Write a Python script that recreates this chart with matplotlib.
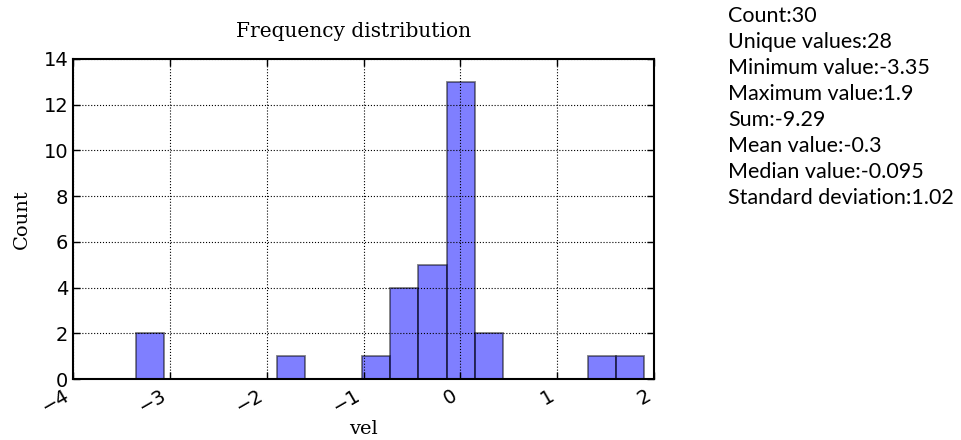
import numpy as np
import matplotlib
matplotlib.use("Agg")
import matplotlib.pyplot as plt

# Data
vmin, vmax = -3.35, 1.9
n_bins = 18
counts = [2, 0, 0, 0, 0, 1, 0, 0, 1, 4, 5, 13, 2, 0, 0, 0, 1, 1]
xticks = [-4, -3, -2, -1, 0, 1, 2]
yticks = [0, 2, 4, 6, 8, 10, 12, 14]
stats_lines = [
    "Count:30",
    "Unique values:28",
    "Minimum value:-3.35",
    "Maximum value:1.9",
    "Sum:-9.29",
    "Mean value:-0.3",
    "Median value:-0.095",
    "Standard deviation:1.02",
]

edges = np.linspace(vmin, vmax, n_bins + 1)
widths = np.diff(edges)

fig = plt.figure(figsize=(9.61, 4.4), dpi=100)
ax = fig.add_axes([73/961, 1-379/440, (654-73)/961, (379-59)/440])

ax.bar(edges[:-1], counts, width=widths, align='edge', color='blue', alpha=0.5,
       edgecolor='black', linewidth=1.3, zorder=2)

ax.set_xlim(-4, 2)
ax.set_ylim(0, 14)
ax.set_xticks(xticks)
ax.set_yticks(yticks)
ax.set_xticklabels([str(t).replace('-', '\u2212') for t in xticks], rotation=30,
                   ha='right', rotation_mode='default')
ax.tick_params(direction='in', top=True, right=True, length=5, width=1, labelsize=14,
               colors='black')
ax.tick_params(axis='x', pad=5)
ax.grid(True, color='black', linestyle=':', linewidth=0.8, zorder=0)
ax.set_axisbelow(False)
for s in ax.spines.values():
    s.set_linewidth(1.5)

ax.set_title("Frequency distribution", family='DejaVu Serif', fontsize=14.5, pad=16, x=0.483)
ax.set_xlabel("vel", family='DejaVu Serif', fontsize=14, labelpad=2)
ax.set_ylabel("Count", family='DejaVu Serif', fontsize=14, labelpad=9)

for i, line in enumerate(stats_lines):
    fig.text(728/961, 1 - (16 + i*26)/440, line, family='Lato', fontsize=15.5,
             va='center', ha='left')

fig.savefig("out.png", dpi=100)
